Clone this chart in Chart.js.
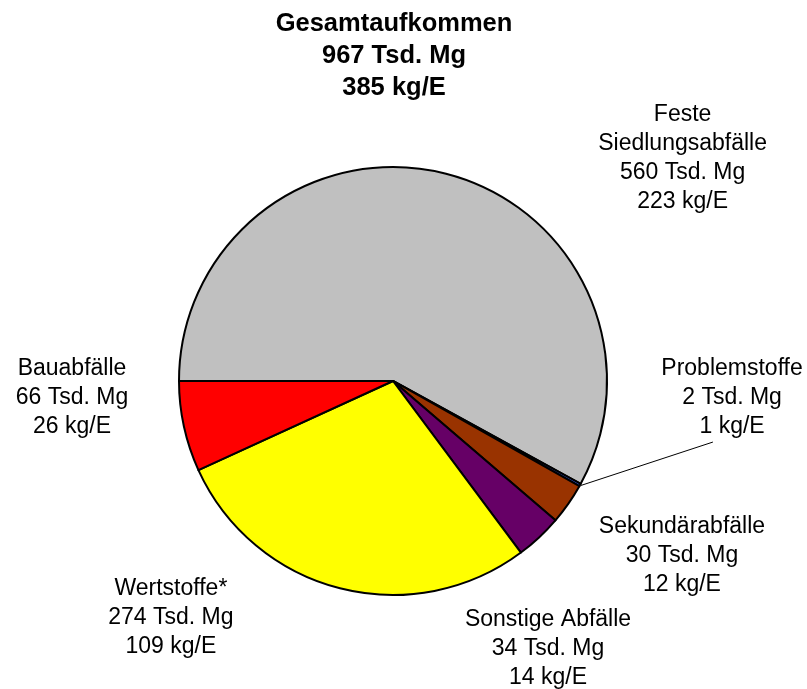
<!DOCTYPE html>
<html>
<head>
<meta charset="utf-8">
<script src="https://cdn.jsdelivr.net/npm/chart.js@4.4.1/dist/chart.umd.min.js"></script>
<style>
  html, body { margin: 0; padding: 0; background: #ffffff; }
  #wrap { width: 807px; height: 689px; position: relative; }
</style>
</head>
<body>
<div id="wrap"><canvas id="c" width="807" height="689"></canvas></div>
<script>
// ---- data ----
const categories = ["Feste|Siedlungsabfälle", "Problemstoffe", "Sekundärabfälle", "Sonstige Abfälle", "Wertstoffe*", "Bauabfälle"];
const tonnesThousand = [560, 2, 30, 34, 274, 66];
const kgPerInhabitant = [223, 1, 12, 14, 109, 26];
const totalTonnes = 967;
const totalKg = 385;
const titleLines = ["Gesamtaufkommen", totalTonnes + " Tsd. Mg", totalKg + " kg/E"];

// ---- styles / layout ----
const sliceColors = ["#C0C0C0", "#3366FF", "#993300", "#660066", "#FFFF00", "#FF0000"];
// label anchor (centre of first text line) relative to pie centre, in units of radius
const labelAnchors = [
  [1.347, -1.249],
  [1.577, -0.065],
  [1.344, 0.670],
  [0.721, 1.100],
  [-1.033, 0.958],
  [-1.493, -0.065]
];
const leaderIndex = 1;
const leaderEnd = [1.488, 0.284];

const FONT = '"Liberation Sans", Arial, Helvetica, sans-serif';

const labelPlugin = {
  id: 'pieLabels',
  afterDatasetsDraw(chart) {
    const ctx = chart.ctx;
    const meta = chart.getDatasetMeta(0);
    const arc0 = meta.data[0];
    const cx = arc0.x, cy = arc0.y;
    const R = arc0.outerRadius + 1;

    ctx.save();
    // title
    ctx.fillStyle = '#000';
    ctx.textAlign = 'center';
    ctx.textBaseline = 'alphabetic';
    ctx.font = 'bold 25.5px ' + FONT;
    titleLines.forEach((t, i) => {
      ctx.fillText(t, cx + 1, 21.7 + 9.1 + i * 32.2);
    });

    // slice labels
    ctx.font = '23px ' + FONT;
    categories.forEach((cat, i) => {
      const lines = cat.split('|').concat([tonnesThousand[i] + ' Tsd. Mg', kgPerInhabitant[i] + ' kg/E']);
      const ax = cx + labelAnchors[i][0] * R;
      const ay = cy + labelAnchors[i][1] * R;
      lines.forEach((l, j) => {
        ctx.fillText(l, ax, ay + 8.2 + j * 29);
      });
    });

    // leader line
    const a = meta.data[leaderIndex];
    const mid = (a.startAngle + a.endAngle) / 2;
    const sx = cx + Math.cos(mid) * R;
    const sy = cy + Math.sin(mid) * R;
    ctx.beginPath();
    ctx.strokeStyle = '#000';
    ctx.lineWidth = 1;
    ctx.moveTo(sx, sy);
    ctx.lineTo(cx + leaderEnd[0] * R, cy + leaderEnd[1] * R);
    ctx.stroke();
    ctx.restore();
  }
};

new Chart(document.getElementById('c'), {
  type: 'pie',
  data: {
    labels: categories.map(c => c.replace('|', ' ')),
    datasets: [{
      data: tonnesThousand,
      backgroundColor: sliceColors,
      borderColor: '#000000',
      borderWidth: 2,
      borderJoinStyle: 'round'
    }]
  },
  options: {
    responsive: false,
    animation: false,
    rotation: -90,
    layout: { padding: { top: 166, bottom: 93, left: 178, right: 199 } },
    plugins: {
      legend: { display: false },
      title: { display: false },
      tooltip: { enabled: false }
    }
  },
  plugins: [labelPlugin]
});
</script>
</body>
</html>
